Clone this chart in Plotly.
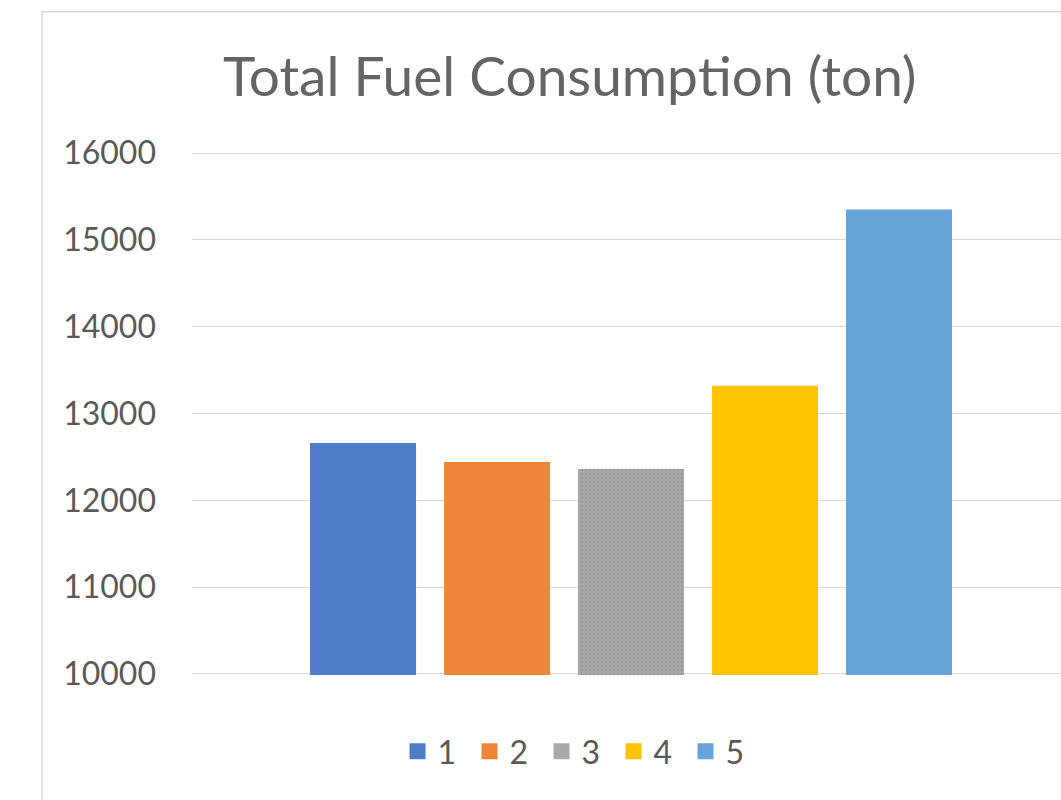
import plotly.graph_objects as go

# Series names and total fuel consumption (ton) per series
series_names = ["1", "2", "3", "4", "5"]
fuel_tons = [12660, 12440, 12360, 13320, 15350]
series_colors = ["#4E7CC8", "#EE863A", "#A8A8A8", "#FFC300", "#66A3D9"]

y_ticks = [10000, 11000, 12000, 13000, 14000, 15000, 16000]
y_tick_labels = ["10000", "11000", "12000", "13000", "14000", "15000", "16000"]

TEXT_GREY = "#595959"
FONT = "Lato"

fig = go.Figure()

for name, val, col in zip(series_names, fuel_tons, series_colors):
    marker = dict(color=col, line=dict(width=0))
    if name == "3":
        marker["pattern"] = dict(shape=".", size=4, solidity=0.35,
                                 fgcolor="#9A9A9A", bgcolor=col, fillmode="replace")
    fig.add_trace(go.Bar(
        x=[""], y=[val], name=name, marker=marker,
        legendgroup=name, showlegend=False,
    ))
    # square legend entry linked to the bar above
    fig.add_trace(go.Scatter(
        x=[None], y=[None], mode="markers", name=name, legendgroup=name,
        marker=dict(symbol="square", size=20, color=col),
        hoverinfo="skip",
    ))

fig.update_layout(
    width=1061, height=800,
    margin=dict(l=192, r=0, t=152, b=125),
    paper_bgcolor="white", plot_bgcolor="white",
    barmode="group", bargap=0.237, bargroupgap=0.209,
    title=dict(text="Total Fuel Consump\u200ction (ton)", x=0.537, xanchor="center",
               y=1 - 77 / 800, yanchor="middle",
               font=dict(family=FONT, size=55, color="#646464")),
    xaxis=dict(range=[-0.5, 0.4897], showticklabels=False, showgrid=False,
               zeroline=False, showline=False, fixedrange=True),
    yaxis=dict(range=[9988, 16012], tickvals=y_ticks, ticktext=y_tick_labels,
               showgrid=True, gridcolor="#D9D9D9", gridwidth=1, zeroline=False,
               showline=False, ticklabelstandoff=35,
               tickfont=dict(family=FONT, size=32, color=TEXT_GREY)),
    legend=dict(orientation="h", x=0.2365, xanchor="left", y=-0.146,
                yanchor="middle", font=dict(family=FONT, size=32, color=TEXT_GREY),
                itemsizing="trace", entrywidth=27, bgcolor="rgba(0,0,0,0)"),
    shapes=[dict(type="rect", xref="paper", yref="paper",
                 x0=(42 - 192) / 869, x1=1.05, y0=-0.3, y1=(674 - 14) / 520.5,
                 line=dict(color="#D9D9D9", width=1.5), fillcolor="rgba(0,0,0,0)",
                 layer="below")],
)

fig.write_html("out.html")
